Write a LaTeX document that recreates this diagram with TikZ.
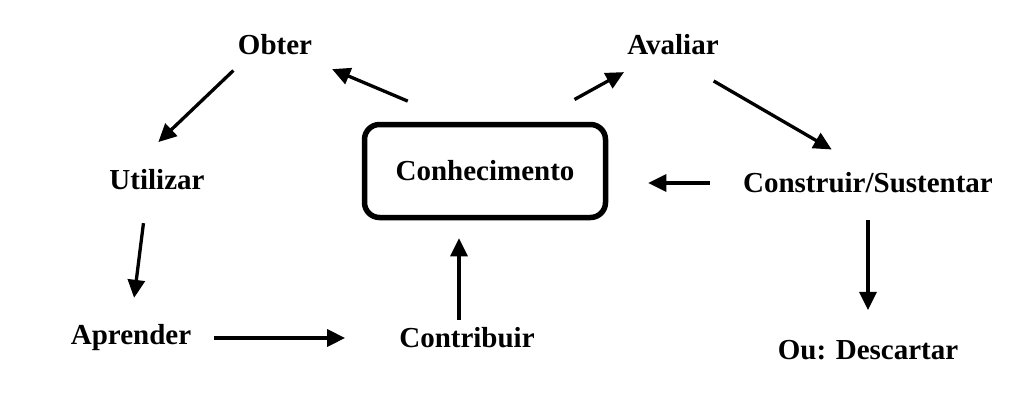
\documentclass[tikz,border=0pt]{standalone}
\usepackage{fontspec}
\setmainfont{Liberation Serif}
\usetikzlibrary{arrows.meta}

\begin{document}
\begin{tikzpicture}[x=1pt, y=-1pt, >={Triangle[length=18pt,width=17pt]},
    rotulo/.style={font=\bfseries\fontsize{29}{33}\selectfont, inner sep=2pt},
    seta/.style={->, line width=3.3pt}]
    \useasboundingbox (0,0) rectangle (1034,404);
    % Caixa central
    \node[rotulo, draw, line width=5.5pt, rounded corners=15pt,
        minimum width=241pt, minimum height=93pt] (conh) at (485,171) {Conhecimento};
    % Etapas
    \node[rotulo] (obter) at (275,45) {Obter};
    \node[rotulo] (avaliar) at (673,45) {Avaliar};
    \node[rotulo] (utilizar) at (157,180) {Utilizar};
    \node[rotulo] (construir) at (868,183) {Construir/Sustentar};
    \node[rotulo] (aprender) at (131,338) {Aprender};
    \node[rotulo] (contribuir) at (467,338) {Contribuir};
    \node[rotulo] (descartar) at (868,350) {Ou: Descartar};
    % Setas
    \draw[seta, shorten <=53pt, shorten >=62pt] (conh.120) -- (obter.center);
    \draw[seta, shorten <=46pt, shorten >=56pt] (conh.45) -- (avaliar.center);
    \draw[seta, shorten <=47pt, shorten >=42pt] (avaliar.south) -- (construir.north);
    \draw[seta, shorten <=19pt, shorten >=37pt] (obter.204) -- (utilizar.154);
    \draw[seta, shorten <=31pt, shorten >=25pt] (utilizar.232) -- (aprender.north);
    \draw[seta, shorten <=21pt, shorten >=52pt] (aprender.east) -- (contribuir.west);
    \draw[seta, shorten <=6pt, shorten >=18pt] ([xshift=-8pt]contribuir.north) -- ([xshift=-8pt]contribuir.north |- conh.south);
    \draw[seta, shorten <=31pt, shorten >=40pt] (construir.west) -- (construir.west -| conh.east);
    \draw[seta, shorten <=25pt, shorten >=28pt] (construir.south) -- (descartar.north);
\end{tikzpicture}
\end{document}
